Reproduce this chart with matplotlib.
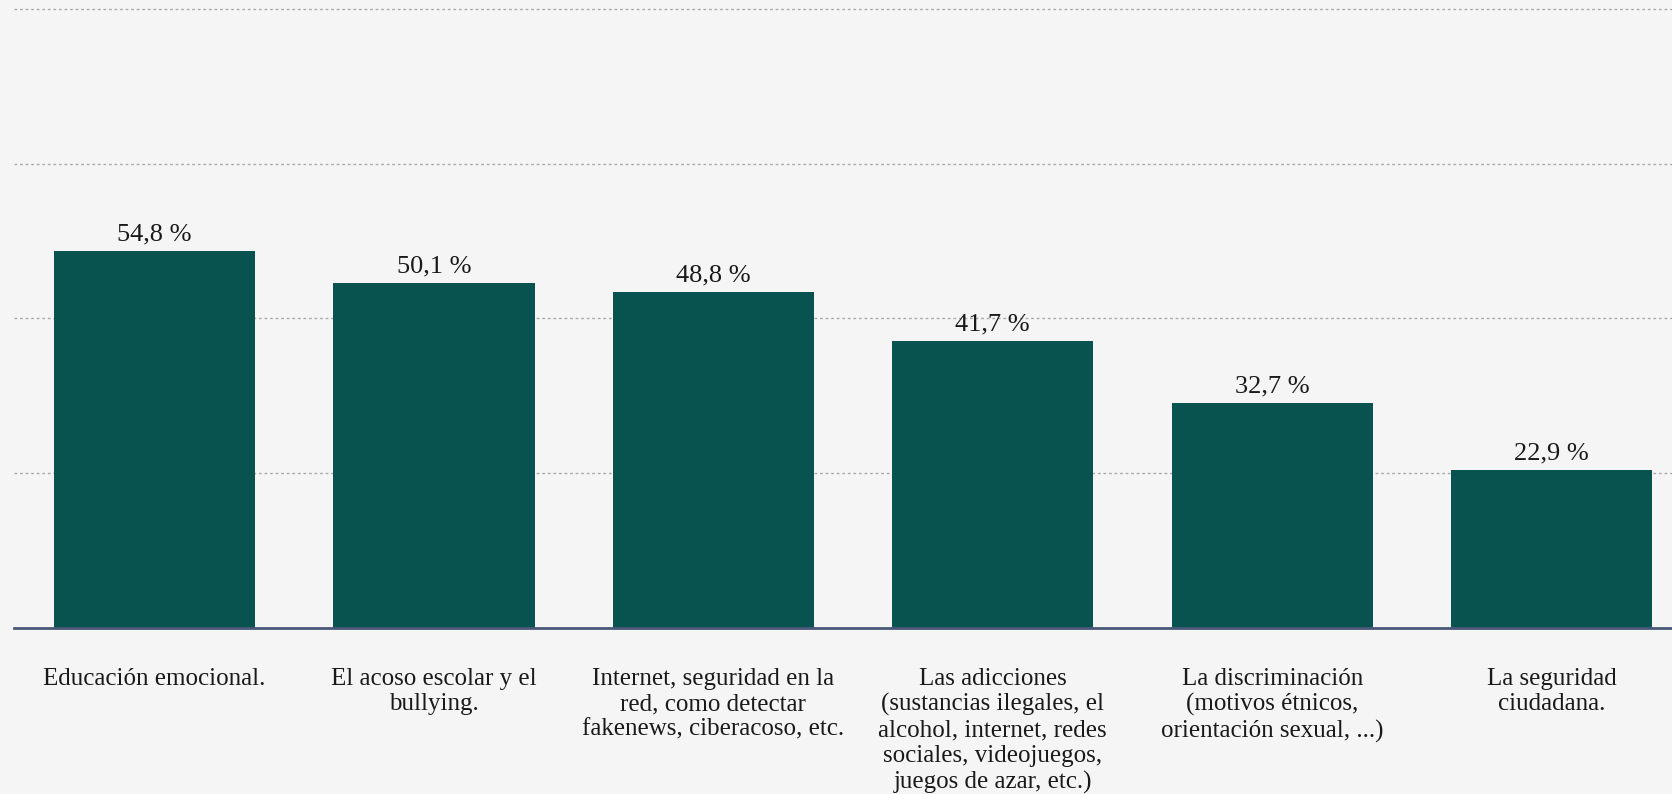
import matplotlib.pyplot as plt

# Data
categories = [
    "Educación emocional.",
    "El acoso escolar y el\nbullying.",
    "Internet, seguridad en la\nred, como detectar\nfakenews, ciberacoso, etc.",
    "Las adicciones\n(sustancias ilegales, el\nalcohol, internet, redes\nsociales, videojuegos,\njuegos de azar, etc.)",
    "La discriminación\n(motivos étnicos,\norientación sexual, ...)",
    "La seguridad\nciudadana.",
]
values = [54.8, 50.1, 48.8, 41.7, 32.7, 22.9]
value_labels = ["54,8 %", "50,1 %", "48,8 %", "41,7 %", "32,7 %", "22,9 %"]
grid_ticks = [22.5, 45, 67.5, 90]

bg = "#f5f5f5"
bar_color = "#08534f"

plt.rcParams['font.family'] = ['Liberation Serif', 'DejaVu Serif']

fig = plt.figure(figsize=(16.72, 7.94), dpi=100, facecolor=bg)
ax = fig.add_axes([14 / 1672, 166 / 794, 1 - 14 / 1672, 628 / 794])
ax.set_facecolor(bg)

x = list(range(len(values)))
ax.bar(x, values, width=0.72, color=bar_color, zorder=3)

for xi, v, lab in zip(x, values, value_labels):
    ax.annotate(lab, (xi, v), xytext=(0, 4), textcoords="offset points",
                ha="center", va="bottom", fontsize=19, color="#1a1a1a")

ax.set_xlim(-0.503, 5.431)
ax.set_ylim(0, 91.3)

ax.set_yticks(grid_ticks)
ax.yaxis.grid(True, linestyle=(0, (2, 2)), color="#aaaaaa", linewidth=1, zorder=0)
ax.tick_params(axis="y", left=False, labelleft=False)

ax.set_xticks(x)
ax.set_xticklabels(categories, fontsize=18, color="#1a1a1a", linespacing=1.2, va="top")
ax.tick_params(axis="x", bottom=False, pad=25)

for side in ["top", "right", "left"]:
    ax.spines[side].set_visible(False)
ax.spines["bottom"].set_color("#4a5878")
ax.spines["bottom"].set_linewidth(2)
ax.spines["bottom"].set_zorder(4)

fig.savefig("out.png", dpi=100, facecolor=bg)
